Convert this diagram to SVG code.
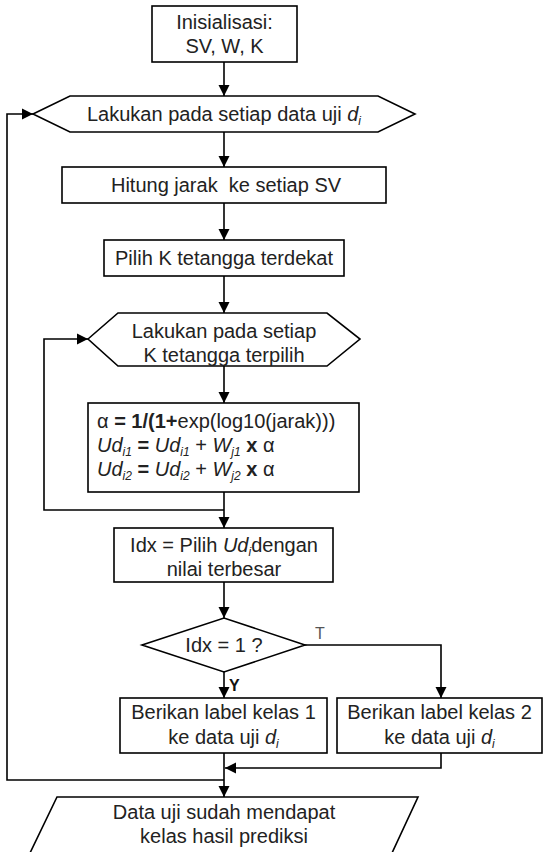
<svg xmlns="http://www.w3.org/2000/svg" width="544" height="852" viewBox="0 0 544 852">
<defs>
<marker id="arr" markerUnits="userSpaceOnUse" markerWidth="12" markerHeight="12" refX="11" refY="6" orient="auto">
<path d="M0,0.5 L11,6 L0,11.5 z" fill="#000"/>
</marker>
</defs>
<style>
.s{fill:#fff;stroke:#000;stroke-width:1.6}
.t{font-family:"Liberation Sans",Arial,sans-serif;font-size:20px;fill:#222;text-anchor:middle;white-space:pre}
.f{font-family:"Liberation Sans",Arial,sans-serif;font-size:20px;fill:#222;white-space:pre}
.c{fill:none;stroke:#000;stroke-width:1.6}
.i{font-style:italic}
.b{font-weight:bold}
.sub{font-style:italic;font-size:12px}
</style>
<rect width="544" height="852" fill="#fff"/>
<g id="connectors">
<line class="c" x1="224" y1="62" x2="224" y2="96" marker-end="url(#arr)"/>
<line class="c" x1="224" y1="132" x2="224" y2="167" marker-end="url(#arr)"/>
<line class="c" x1="224" y1="203" x2="224" y2="240" marker-end="url(#arr)"/>
<line class="c" x1="224" y1="276" x2="224" y2="313" marker-end="url(#arr)"/>
<line class="c" x1="224" y1="366" x2="224" y2="403" marker-end="url(#arr)"/>
<line class="c" x1="224" y1="492" x2="224" y2="528" marker-end="url(#arr)"/>
<path class="c" d="M224,510 H44 V339 H88" marker-end="url(#arr)"/>
<line class="c" x1="224" y1="582" x2="224" y2="618" marker-end="url(#arr)"/>
<line class="c" x1="224" y1="672" x2="224" y2="698" marker-end="url(#arr)"/>
<path class="c" d="M305,645 H441 V698" marker-end="url(#arr)"/>
<line class="c" x1="224" y1="753" x2="224" y2="797" marker-end="url(#arr)"/>
<path class="c" d="M441,753 V768 H225" marker-end="url(#arr)"/>
<path class="c" d="M224,780 H7 V114 H33" marker-end="url(#arr)"/>
<text x="315" y="639" style="font-family:'Liberation Sans',Arial,sans-serif;font-size:16px;fill:#555">T</text>
<text x="229" y="691" style="font-family:'Liberation Sans',Arial,sans-serif;font-size:16px;fill:#111;font-weight:bold">Y</text>
</g>
<g id="init">
<rect class="s" x="152" y="6" width="145" height="56"/>
<text class="t" x="224.5" y="29">Inisialisasi:</text>
<text class="t" x="224.5" y="53">SV, W, K</text>
</g>
<g id="loop-data">
<polygon class="s" points="33,114 70,96 378,96 415,114 378,132 70,132"/>
<text class="t" x="224" y="121">Lakukan pada setiap data uji <tspan class="i">d</tspan><tspan class="sub" dy="4">i</tspan></text>
</g>
<g id="hitung">
<rect class="s" x="62" y="167" width="324" height="36"/>
<text class="t" x="226" y="192" xml:space="preserve">Hitung jarak  ke setiap SV</text>
</g>
<g id="pilih">
<rect class="s" x="104" y="240" width="240" height="36"/>
<text class="t" x="224" y="265">Pilih K tetangga terdekat</text>
</g>
<g id="loop-k">
<polygon class="s" points="88,339 118,313 327,313 360,339 327,366 118,366"/>
<text class="t" x="224" y="338">Lakukan pada setiap</text>
<text class="t" x="224" y="362">K tetangga terpilih</text>
</g>
<g id="formula">
<rect class="s" x="88" y="403" width="271" height="89"/>
<text class="f" x="97" y="428">α <tspan class="b">= 1/(1+</tspan>exp(log10(jarak)))</text>
<text class="f" x="97" y="452"><tspan class="i">Ud</tspan><tspan class="sub" dy="4">i1</tspan><tspan class="b" dy="-4"> = </tspan><tspan class="i">Ud</tspan><tspan class="sub" dy="4">i1</tspan><tspan dy="-4"> + </tspan><tspan class="i">W</tspan><tspan class="sub" dy="4">j1</tspan><tspan class="b" dy="-4"> x </tspan>α</text>
<text class="f" x="97" y="476"><tspan class="i">Ud</tspan><tspan class="sub" dy="4">i2</tspan><tspan class="b" dy="-4"> = </tspan><tspan class="i">Ud</tspan><tspan class="sub" dy="4">i2</tspan><tspan dy="-4"> + </tspan><tspan class="i">W</tspan><tspan class="sub" dy="4">j2</tspan><tspan class="b" dy="-4"> x </tspan>α</text>
</g>
<g id="idx">
<rect class="s" x="114" y="528" width="219" height="54"/>
<text class="t" x="224" y="552">Idx = Pilih <tspan class="i">Ud</tspan><tspan class="sub" dy="4">i</tspan><tspan dy="-4">dengan</tspan></text>
<text class="t" x="224" y="576">nilai terbesar</text>
</g>
<g id="decision">
<polygon class="s" points="142,645 224,618 305,645 224,672"/>
<text class="t" x="224" y="652">Idx = 1 ?</text>
</g>
<g id="kelas1">
<rect class="s" x="120" y="698" width="207" height="55"/>
<text class="t" x="223.5" y="719">Berikan label kelas 1</text>
<text class="t" x="223.5" y="744">ke data uji <tspan class="i">d</tspan><tspan class="sub" dy="4">i</tspan></text>
</g>
<g id="kelas2">
<rect class="s" x="337" y="698" width="205" height="55"/>
<text class="t" x="439.5" y="719">Berikan label kelas 2</text>
<text class="t" x="439.5" y="744">ke data uji <tspan class="i">d</tspan><tspan class="sub" dy="4">i</tspan></text>
</g>
<g id="output">
<polygon class="s" points="57,797 418,797 392,853 30,853"/>
<text class="t" x="224" y="819">Data uji sudah mendapat</text>
<text class="t" x="224" y="843">kelas hasil prediksi</text>
</g>
</svg>
